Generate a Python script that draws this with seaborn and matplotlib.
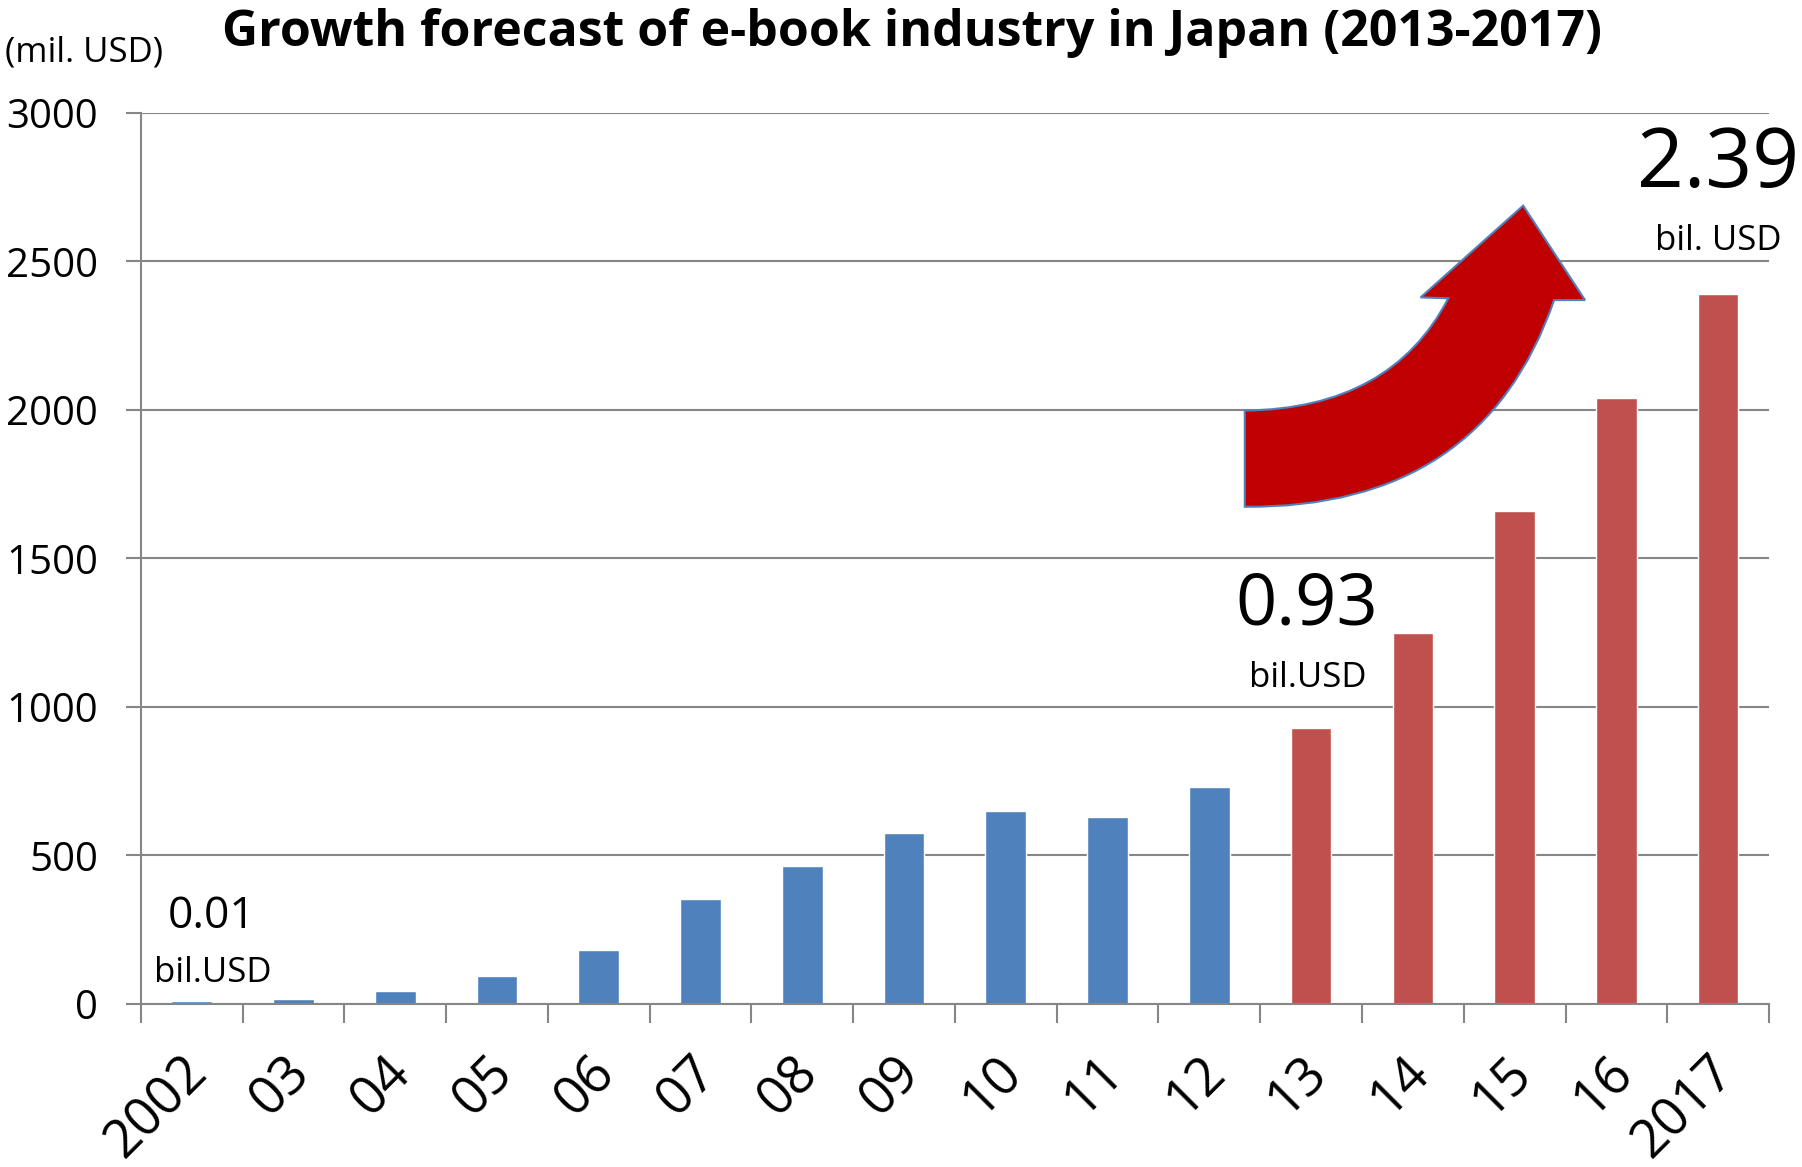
import pandas as pd
import seaborn as sns
import matplotlib.pyplot as plt
import matplotlib.transforms as mtransforms
from matplotlib.path import Path
from matplotlib.patches import PathPatch


years = ['2002', '03', '04', '05', '06', '07', '08', '09', '10', '11', '12',
         '13', '14', '15', '16', '2017']
values = [10, 18, 45, 94, 182, 355, 464, 574, 650, 629, 729,
          930, 1250, 1660, 2040, 2390]
kinds = ['actual'] * 11 + ['forecast'] * 5

df = pd.DataFrame({'year': years, 'value': values, 'kind': kinds})

sns.set_style('white')
plt.rcParams['font.family'] = ['Open Sans', 'DejaVu Sans']
plt.rcParams['text.color'] = 'black'
plt.rcParams['xtick.labelcolor'] = 'black'
plt.rcParams['ytick.labelcolor'] = 'black'

fig = plt.figure(figsize=(18.02, 11.67), dpi=100)
ax = fig.add_axes([0.0782, 0.1397, 0.9035, 0.7635])

sns.barplot(data=df, x='year', y='value', hue='kind',
            palette={'actual': '#4F81BD', 'forecast': '#C0504D'},
            dodge=False, width=0.4, saturation=1, legend=False, ax=ax)

grid_c = '#868686'
ax.set_xlim(-0.5, 15.5)
ax.set_ylim(0, 3000)
ax.set_yticks(range(0, 3001, 500))
ax.yaxis.grid(True, color=grid_c, lw=1.5)
ax.set_axisbelow(True)
for s in ['top', 'right']:
    ax.spines[s].set_visible(False)
for s in ['left', 'bottom']:
    ax.spines[s].set_color(grid_c)
    ax.spines[s].set_linewidth(1.5)
ax.set_xlabel('')
ax.set_ylabel('')

ax.tick_params(axis='y', direction='out', length=11, width=1.5, color=grid_c,
               labelsize=29, labelcolor='black', pad=20, left=True)
# excel style ticks between categories
ax.set_xticks([i - 0.5 for i in range(17)], minor=True)
ax.tick_params(axis='x', which='minor', direction='out', length=14, width=1.5,
               color=grid_c, bottom=True)
ax.set_xticks(range(16))
ax.set_xticklabels(years, rotation=45, ha='right', va='center',
                   rotation_mode='anchor', fontsize=38, color='black')
ax.tick_params(axis='x', which='major', length=0, pad=44)
offset = mtransforms.ScaledTranslation(8 / 100, 0, fig.dpi_scale_trans)
for lab in ax.get_xticklabels():
    lab.set_transform(lab.get_transform() + offset)

# curved arrow (axes fraction)
verts = [(0.678, 0.558), (0.678, 0.666), (0.768, 0.668), (0.803, 0.792),
         (0.786, 0.793), (0.849, 0.896), (0.887, 0.790), (0.868, 0.790),
         (0.824, 0.556), (0.678, 0.558), (0.678, 0.558)]
codes = [Path.MOVETO, Path.LINETO, Path.CURVE3, Path.CURVE3,
         Path.LINETO, Path.LINETO, Path.LINETO, Path.LINETO,
         Path.CURVE3, Path.CURVE3, Path.CLOSEPOLY]
ax.add_patch(PathPatch(Path(verts, codes), transform=ax.transAxes,
                       facecolor='#C00000', edgecolor='#4F81BD', lw=1.5, zorder=5))

# annotations
ax.text(0.20, 256, '0.01', fontsize=32, ha='center', va='baseline')
ax.text(0.21, 74, 'bil.USD', fontsize=25, ha='center', va='baseline')
ax.text(10.96, 1276, '0.93', fontsize=52, ha='center', va='baseline')
ax.text(10.97, 1067, 'bil.USD', fontsize=25, ha='center', va='baseline')
ax.text(15.0, 2751, '2.39', fontsize=59, ha='center', va='baseline')
ax.text(15.0, 2538, 'bil. USD', fontsize=25, ha='center', va='baseline')

fig.text(0.506, 0.961, 'Growth forecast of e-book industry in Japan (2013-2017)',
         fontsize=36, fontweight='bold', ha='center', va='baseline')
fig.text(0.003, 0.9469, '(mil. USD)', fontsize=25, ha='left', va='baseline')

fig.savefig('out.png', dpi=100)
